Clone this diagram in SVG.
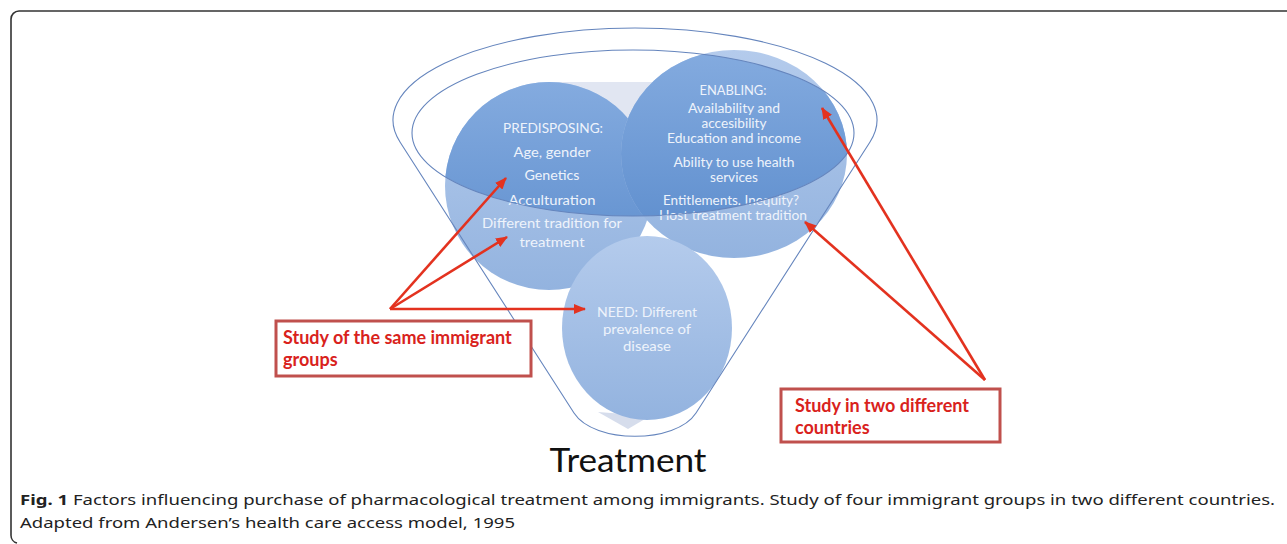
<svg xmlns="http://www.w3.org/2000/svg" width="1287" height="544" viewBox="0 0 1287 544">
<style>
.ct{font-family:Lato,"Open Sans","Liberation Sans",sans-serif;font-size:13.5px;fill:#eef3fb;text-anchor:middle}
.bt{font-family:Lato,"Liberation Sans",sans-serif;font-weight:bold;font-size:18px;fill:#d9221c}
.cap{font-family:"Noto Sans","Liberation Sans",sans-serif;font-size:15px;fill:#222}
.fun{fill:none;stroke:#6585bd;stroke-width:1.1}
.arr{stroke:#e3321f;stroke-width:2.6;fill:none;marker-end:url(#ah)}
.box{fill:#fff;stroke:#c0504d;stroke-width:3}
</style>
<defs>
<linearGradient id="lg" x1="0" y1="0" x2="0" y2="1">
<stop offset="0" stop-color="#b4cbec"/><stop offset="1" stop-color="#93b3df"/>
</linearGradient>
<linearGradient id="dg" x1="0" y1="0" x2="0" y2="1">
<stop offset="0" stop-color="#84abdf"/><stop offset="1" stop-color="#5a8bcc"/>
</linearGradient>
<clipPath id="inner"><ellipse cx="633" cy="133" rx="221" ry="83"/></clipPath>
<marker id="ah" viewBox="0 0 12 10" refX="11" refY="5" markerWidth="12" markerHeight="10" markerUnits="userSpaceOnUse" orient="auto">
<path d="M0,0 L12,5 L0,10 Z" fill="#e3321f"/>
</marker>
</defs>
<rect width="1287" height="544" fill="#fff"/>
<path d="M1290,11 H19 A8,8 0 0 0 11,19 V535 A8,8 0 0 0 17,543" fill="none" stroke="#333" stroke-width="1.6"/>

<g id="backdrop">
<polygon points="545,82 690,82 690,150 545,150" fill="#e1e6f2"/>
<polygon points="598,412 628,429 650,416" fill="#d6ddec"/>
</g>

<g id="predisposing">
<circle cx="549" cy="186" r="104" fill="url(#lg)"/>
<circle cx="549" cy="186" r="104" fill="url(#dg)" clip-path="url(#inner)"/>
<text class="ct" x="553" y="133" textLength="100" lengthAdjust="spacingAndGlyphs">PREDISPOSING:</text>
<text class="ct" x="552" y="157" textLength="77" lengthAdjust="spacingAndGlyphs">Age, gender</text>
<text class="ct" x="552" y="180" textLength="55" lengthAdjust="spacingAndGlyphs">Genetics</text>
<text class="ct" x="552" y="205" textLength="87" lengthAdjust="spacingAndGlyphs">Acculturation</text>
<text class="ct" x="552" y="228" textLength="140" lengthAdjust="spacingAndGlyphs">Different tradition for</text>
<text class="ct" x="552" y="247" textLength="65" lengthAdjust="spacingAndGlyphs">treatment</text>
</g>

<g id="enabling">
<ellipse cx="734" cy="154" rx="113" ry="104" fill="url(#lg)"/>
<ellipse cx="734" cy="154" rx="113" ry="104" fill="url(#dg)" clip-path="url(#inner)"/>
<text class="ct" x="733" y="95" textLength="67" lengthAdjust="spacingAndGlyphs">ENABLING:</text>
<text class="ct" x="734" y="113" textLength="92" lengthAdjust="spacingAndGlyphs">Availability and</text>
<text class="ct" x="734" y="128" textLength="65" lengthAdjust="spacingAndGlyphs">accesibility</text>
<text class="ct" x="734" y="143" textLength="134" lengthAdjust="spacingAndGlyphs">Education and income</text>
<text class="ct" x="734" y="167" textLength="121" lengthAdjust="spacingAndGlyphs">Ability to use health</text>
<text class="ct" x="734" y="182" textLength="48" lengthAdjust="spacingAndGlyphs">services</text>
<text class="ct" x="731" y="205" textLength="136" lengthAdjust="spacingAndGlyphs">Entitlements. Inequity?</text>
<text class="ct" x="733" y="220" textLength="148" lengthAdjust="spacingAndGlyphs">Host treatment tradition</text>
</g>

<g id="need">
<ellipse cx="647" cy="328" rx="85" ry="92" fill="url(#lg)"/>
<text class="ct" x="647" y="317" textLength="100" lengthAdjust="spacingAndGlyphs">NEED: Different</text>
<text class="ct" x="647" y="334" textLength="88" lengthAdjust="spacingAndGlyphs">prevalence of</text>
<text class="ct" x="647" y="351" textLength="48" lengthAdjust="spacingAndGlyphs">disease</text>
</g>

<g id="funnel">
<path class="fun" d="M400,142 A242,92 0 1 1 870,142 L696,413 C676,444 594,444 574,413 Z"/>
<ellipse class="fun" cx="633" cy="133" rx="221" ry="83"/>
</g>

<g id="connectors">
<line class="arr" x1="390" y1="309" x2="506" y2="178"/>
<line class="arr" x1="390" y1="309" x2="507" y2="237"/>
<line class="arr" x1="390" y1="309" x2="585" y2="309"/>
<line class="arr" x1="985" y1="380" x2="822" y2="108"/>
<line class="arr" x1="985" y1="380" x2="805" y2="222"/>
</g>

<g id="box-same">
<rect class="box" x="276" y="321" width="255" height="55"/>
<text class="bt" x="283" y="344">Study of the same immigrant</text>
<text class="bt" x="283" y="366">groups</text>
</g>

<g id="box-countries">
<rect class="box" x="781" y="389" width="219" height="53"/>
<text class="bt" x="795" y="412">Study in two different</text>
<text class="bt" x="795" y="434">countries</text>
</g>

<text x="628" y="472" text-anchor="middle" font-family="Lato,'Open Sans','Liberation Sans',sans-serif" font-size="32" fill="#111" textLength="157" lengthAdjust="spacingAndGlyphs">Treatment</text>

<text class="cap" x="20" y="505" textLength="1255" lengthAdjust="spacingAndGlyphs"><tspan font-weight="bold">Fig. 1</tspan> Factors influencing purchase of pharmacological treatment among immigrants. Study of four immigrant groups in two different countries.</text>
<text class="cap" x="20" y="528" textLength="495" lengthAdjust="spacingAndGlyphs">Adapted from Andersen’s health care access model, 1995</text>
</svg>
